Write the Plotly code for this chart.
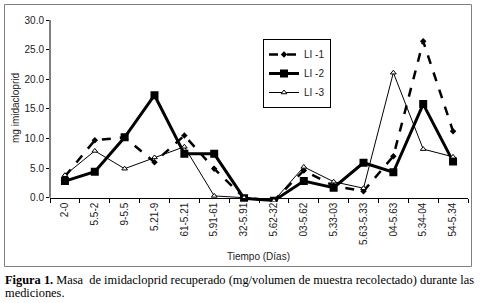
import plotly.graph_objects as go

categories = ["2-0", "5.5-2", "9-5.5", "5.21-9", "61-5.21", "5.91-61", "32-5.91",
              "5.62-32", "03-5.62", "5.33-03", "5.63-5.33", "04-5.63", "5.34-04", "54-5.34"]
li1 = [3.6, 9.7, 10.2, 6.0, 10.5, 4.9, 0.0, -0.5, 4.6, 2.0, 1.1, 7.0, 26.4, 11.2]
li2 = [2.8, 4.4, 10.2, 17.3, 7.4, 7.4, -0.1, -0.5, 2.8, 1.7, 5.9, 4.3, 15.8, 6.1]
li3 = [3.8, 7.9, 4.9, 6.8, 8.6, 0.3, 0.0, -0.5, 5.2, 2.7, 1.6, 21.1, 8.2, 6.9]
series_names = ["LI -1", "LI -2", "LI -3"]
yticks = [0, 5, 10, 15, 20, 25, 30]

W, H = 481, 303
YMIN, YMAX = -0.7, 30
PPU = (197.7 - 20) / 30.0           # pixels per unit
L, R, T = 50, 468, 20
B = 197.7 + (0 - YMIN) * PPU        # bottom of plot area (below zero line)

# outer frame box (figure pixels) - decoration, not data
FRAME_X = [4.5, 471.5, 471.5, 4.5, 4.5]
FRAME_Y = [4.5, 4.5, 266.5, 266.5, 4.5]

def fx(px):      # figure pixel -> paper fraction (margins are zero)
    return px / W

def fy(py):
    return 1 - py / H

fig = go.Figure()
# frame drawn on a hidden full-page overlay axis pair
fig.add_trace(go.Scatter(
    x=FRAME_X, y=FRAME_Y, xaxis="x2", yaxis="y2", mode="lines",
    line=dict(color="#808080", width=1), hoverinfo="skip", showlegend=False,
))
fig.add_trace(go.Scatter(
    x=categories, y=li1, name=series_names[0], mode="lines+markers",
    line=dict(color="black", width=2.5, dash="dash"),
    marker=dict(symbol="diamond", size=5, color="black"),
))
fig.add_trace(go.Scatter(
    x=categories, y=li2, name=series_names[1], mode="lines+markers",
    line=dict(color="black", width=3),
    marker=dict(symbol="square", size=8, color="black"),
))
fig.add_trace(go.Scatter(
    x=categories, y=li3, name=series_names[2], mode="lines+markers",
    line=dict(color="black", width=1),
    marker=dict(symbol="triangle-up", size=5, color="white",
                line=dict(color="black", width=1)),
))

fig.update_layout(
    width=W, height=H,
    margin=dict(l=0, r=0, t=0, b=0, autoexpand=False),
    paper_bgcolor="white", plot_bgcolor="rgba(0,0,0,0)",
    font=dict(family="Liberation Sans, Arial, sans-serif", size=10, color="#222"),
    showlegend=True,
    legend=dict(
        x=fx(263), y=fy(39), xanchor="left", yanchor="top",
        bordercolor="black", borderwidth=1, bgcolor="white",
        font=dict(size=10, color="#222"),
        itemwidth=30, tracegroupgap=0,
    ),
    xaxis=dict(
        type="category", showgrid=False, zeroline=False,
        domain=[fx(L), fx(R)], automargin=False,
        anchor="free", position=fy(197.7),
        showline=True, linecolor="black", linewidth=1,
        ticks="outside", ticklen=4, tickcolor="black", tickson="boundaries",
        tickangle=-90, tickfont=dict(size=10, color="#222"),
        range=[-0.5, len(categories) - 0.5],
    ),
    yaxis=dict(
        domain=[fy(B), fy(T)], automargin=False,
        range=[YMIN, YMAX], tickvals=yticks, tickformat=".1f",
        showgrid=False, zeroline=False,
        showline=False,
        ticks="outside", ticklen=3, tickcolor="black",
        tickfont=dict(size=10, color="#222"),
    ),
    xaxis2=dict(domain=[0, 1], range=[0, W], visible=False, anchor="y2",
                fixedrange=True),
    yaxis2=dict(domain=[0, 1], range=[H, 0], visible=False, anchor="x2",
                fixedrange=True),
)

# y axis line from 0 to 30 only
fig.add_shape(type="line", xref="x domain", yref="y", x0=0, x1=0, y0=0, y1=YMAX,
              line=dict(color="black", width=1), layer="above")

# axis titles
fig.add_annotation(xref="paper", yref="paper", x=fx(258), y=fy(256),
                   text="Tiempo (Días)", showarrow=False,
                   font=dict(size=10, color="#222"), xanchor="center", yanchor="middle")
fig.add_annotation(xref="paper", yref="paper", x=fx(15), y=fy(108),
                   text="mg imidacloprid", showarrow=False, textangle=-90,
                   font=dict(size=10, color="#222"), xanchor="center", yanchor="middle")

# caption
cap_font = dict(family="Liberation Serif, Times New Roman, serif", size=12.4, color="black")
fig.add_annotation(xref="paper", yref="paper", x=fx(3), y=fy(280),
                   text="<b>Figura 1.</b> Masa  de imidacloprid recuperado (mg/volumen de muestra recolectado) durante las",
                   showarrow=False, xanchor="left", yanchor="middle", align="left",
                   font=cap_font)
fig.add_annotation(xref="paper", yref="paper", x=fx(3), y=fy(292.5),
                   text="mediciones.",
                   showarrow=False, xanchor="left", yanchor="middle", align="left",
                   font=cap_font)

fig.write_html("out.html", config={"displayModeBar": False},
               post_script="document.body.style.margin='0';document.body.style.overflow='hidden';")
